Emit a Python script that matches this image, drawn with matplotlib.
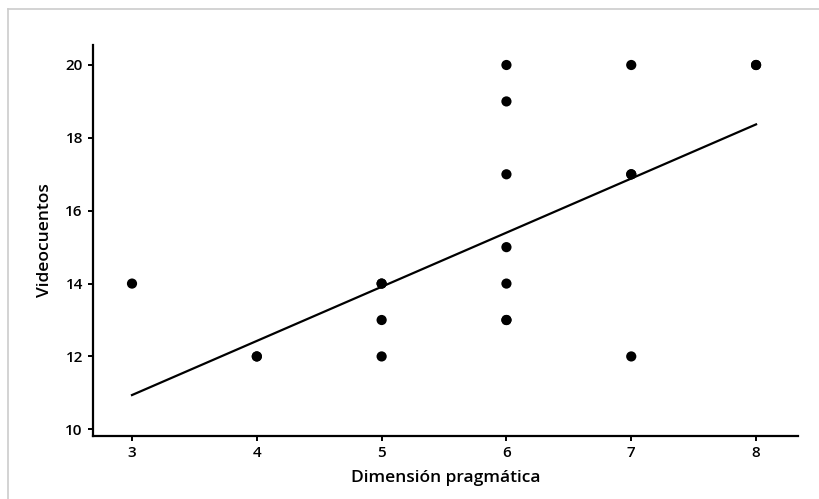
import matplotlib
matplotlib.use("Agg")
import matplotlib.pyplot as plt
from matplotlib.lines import Line2D

plt.rcParams['font.family'] = ['Open Sans', 'DejaVu Sans']

# Data (duplicates reflect overplotted points)
x_vals = [3, 4, 4, 5, 5, 5, 5, 6, 6, 6, 6, 6, 6, 6, 7, 7, 7, 7, 8, 8]
y_vals = [14, 12, 12, 14, 14, 13, 12, 20, 19, 17, 15, 14, 13, 13, 20, 17, 17, 12, 20, 20]

# Fitted regression line endpoints
fit_x = [3, 8]
fit_y = [10.94, 18.37]

x_ticks = [3, 4, 5, 6, 7, 8]
y_ticks = [10, 12, 14, 16, 18, 20]

fig = plt.figure(figsize=(8.2, 4.99), dpi=100)
ax = fig.add_axes([93/820, 1-436/499, (798-93)/820, (436-45)/499])

ax.scatter(x_vals, y_vals, s=54, color='black', edgecolors='none', zorder=3)
ax.plot(fit_x, fit_y, color='black', lw=1.6, zorder=2)

ax.set_xlim(2.6875, 8.336)
ax.set_ylim(9.816, 20.549)
ax.set_xticks(x_ticks)
ax.set_yticks(y_ticks)

for s in ['top', 'right']:
    ax.spines[s].set_visible(False)
for s in ['left', 'bottom']:
    ax.spines[s].set_linewidth(1.6)
    ax.spines[s].set_color('black')

ax.tick_params(axis='both', direction='out', length=3.3, width=1.4, colors='black',
               labelsize=11, pad=4)
for lab in ax.get_xticklabels() + ax.get_yticklabels():
    lab.set_fontweight('semibold')

ax.set_xlabel('Dimensión pragmática', fontsize=12.5, fontweight='semibold', labelpad=7)
ax.set_ylabel('Videocuentos', fontsize=12.5, fontweight='semibold', labelpad=9)

# light gray frame lines (top and left)
fig.add_artist(Line2D([8/820, 1], [1-9/499, 1-9/499], color='#cccccc', lw=1.2,
                      transform=fig.transFigure))
fig.add_artist(Line2D([8/820, 8/820], [0, 1-9/499], color='#cccccc', lw=1.2,
                      transform=fig.transFigure))

fig.savefig('out.png', dpi=100)
